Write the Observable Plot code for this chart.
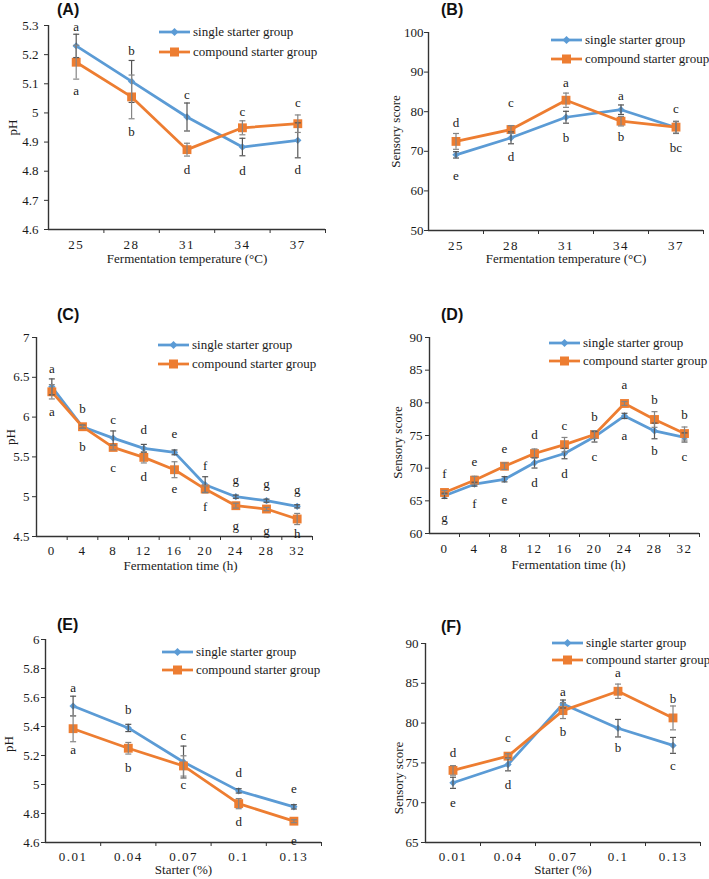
<!DOCTYPE html>
<html><head><meta charset="utf-8">
<script src="https://cdn.jsdelivr.net/npm/d3@7"></script>
<script src="https://cdn.jsdelivr.net/npm/@observablehq/plot@0.6"></script>
<style>
body{margin:0;background:#fff;}
#root{position:relative;width:709px;height:879px;overflow:hidden;font-family:"Liberation Serif","Times New Roman",Times,"DejaVu Serif",serif;color:#1a1a1a;}
.panel{position:absolute;}
.plabel{position:absolute;font-family:"Liberation Sans",Arial,sans-serif;font-weight:bold;font-size:16px;line-height:16px;color:#111;}
.lrow{position:absolute;white-space:nowrap;display:flex;align-items:center;height:16px;font-size:13px;}
.lrow span{margin-left:3px;}
[aria-label="x-axis tick label"] text{letter-spacing:1.5px;}
</style></head><body><div id="root"></div>
<script>
// ---------- categories ----------
const tempCats = ["25","28","31","34","37"];
const timeCats = ["0","4","8","12","16","20","24","28","32"];
const starterCats = ["0.01","0.04","0.07","0.1","0.13"];

// ---------- (A) pH vs temperature ----------
const A_single = [5.23,5.108,4.986,4.883,4.906];
const A_singleErr = [0.04,0.072,0.048,0.03,0.06];
const A_compound = [5.174,5.055,4.874,4.949,4.963];
const A_compoundErr = [0.058,0.075,0.022,0.024,0.03];
const A_upLetters = ["a","b","c","c","c"];
const A_upY = [5.297,5.214,5.062,5.003,5.034];
const A_lowLetters = ["a","b","d","d","d"];
const A_lowY = [5.077,4.934,4.806,4.803,4.806];
const A_yTicks = [4.6,4.7,4.8,4.9,5,5.1,5.2,5.3];

// ---------- (B) sensory vs temperature ----------
const B_single = [69.1,73.4,78.6,80.5,76.0];
const B_singleErr = [0.8,1.5,1.5,1.2,1.5];
const B_compound = [72.5,75.5,82.9,77.6,76.1];
const B_compoundErr = [2.0,1.0,1.8,1.2,1.5];
const B_upLetters = ["d","c","a","a","c"];
const B_upY = [77.3,82.35,87.4,83.9,80.7];
const B_lowLetters = ["e","d","b","b","bc"];
const B_lowY = [63.9,68.5,73.5,73.7,71.0];
const B_yTicks = [50,60,70,80,90,100];

// ---------- (C) pH vs time ----------
const C_single = [6.38,5.879,5.736,5.607,5.557,5.151,5.0,4.95,4.879];
const C_singleErr = [0.1,0.02,0.09,0.05,0.03,0.1,0.02,0.02,0.02];
const C_compound = [6.318,5.879,5.619,5.494,5.339,5.096,4.887,4.845,4.72];
const C_compoundErr = [0.09,0.02,0.03,0.07,0.1,0.04,0.03,0.02,0.07];
const C_upLetters = ["a","b","c","d","e","f","g","g","g"];
const C_upY = [6.611,6.1,5.962,5.837,5.787,5.389,5.209,5.159,5.084];
const C_lowLetters = ["a","b","c","d","e","f","g","g","h"];
const C_lowY = [6.071,5.628,5.368,5.251,5.096,4.874,4.636,4.573,4.531];
const C_yTicks = [4.5,5,5.5,6,6.5,7];

// ---------- (D) sensory vs time ----------
const D_single = [65.77,67.55,68.3,70.82,72.24,74.8,78.0,75.7,74.7];
const D_singleErr = [0.4,0.3,0.4,0.8,0.8,0.8,0.4,1.2,0.7];
const D_compound = [66.28,68.16,70.3,72.24,73.6,75.15,79.9,77.45,75.3];
const D_compoundErr = [0.3,0.6,0.5,0.7,1.1,0.6,0.3,1.2,1.0];
const D_upLetters = ["f","e","e","d","c","b","a","b","b"];
const D_upY = [69.08,70.97,72.9,75.05,76.43,77.86,82.7,80.4,78.2];
const D_lowLetters = ["g","f","e","d","d","c","a","b","c"];
const D_lowY = [62.4,64.5,65.2,67.8,69.18,71.73,74.9,72.65,71.73];
const D_yTicks = [60,65,70,75,80,85,90];

// ---------- (E) pH vs starter ----------
const E_single = [5.541,5.39,5.155,4.956,4.846];
const E_singleErr = [0.068,0.025,0.11,0.015,0.015];
const E_compound = [5.385,5.25,5.128,4.868,4.747];
const E_compoundErr = [0.09,0.04,0.07,0.035,0.01];
const E_upLetters = ["a","b","c","d","e"];
const E_upY = [5.667,5.518,5.334,5.082,4.967];
const E_lowLetters = ["a","b","c","d","e"];
const E_lowY = [5.24,5.114,4.995,4.742,4.611];
const E_yTicks = [4.6,4.8,5,5.2,5.4,5.6,5.8,6];

// ---------- (F) sensory vs starter ----------
const F_single = [72.5,74.8,82.4,79.36,77.2];
const F_singleErr = [0.7,0.8,0.5,1.1,1.0];
const F_compound = [74.06,75.85,81.57,84.0,80.65];
const F_compoundErr = [0.6,0.3,1.0,0.9,1.5];
const F_upLetters = ["d","c","a","a","b"];
const F_upY = [76.27,78.15,83.87,86.29,83.03];
const F_lowLetters = ["e","d","b","b","c"];
const F_lowY = [70.0,72.26,78.86,76.9,74.68];
const F_yTicks = [65,70,75,80,85,90];

const seriesNames = ["single starter group","compound starter group"];

// ---------- styles ----------
const blue = "#5b9bd5", orange = "#ed7d31";
const errSingle = "#555555", errCompound = "#858585";
const axisColor = "#333333";
const capSym = {draw(ctx){ ctx.moveTo(-3,0); ctx.lineTo(3,0); }};
const serif = '"Liberation Serif","Times New Roman",Times,"DejaVu Serif",serif';

const root = document.getElementById("root");

function panel(cfg) {
  const n = cfg.cats.length;
  const idx = d3.range(n);
  const rows = (vals, errs) => idx.map(i => ({i, v: vals[i], lo: vals[i]-errs[i], hi: vals[i]+errs[i]}));
  const s = rows(cfg.single, cfg.singleErr);
  const c = rows(cfg.compound, cfg.compoundErr);
  const lab = idx.map(i => ({i, up: cfg.up[i], upY: cfg.upY[i], low: cfg.low[i], lowY: cfg.lowY[i]}));
  const errMarks = (data, color) => [
    Plot.ruleX(data, {x:"i", y1:"lo", y2:"hi", stroke: color, strokeWidth: 1.2}),
    Plot.dot(data, {x:"i", y:"lo", symbol: capSym, fill:"none", stroke: color, strokeWidth: 1.2}),
    Plot.dot(data, {x:"i", y:"hi", symbol: capSym, fill:"none", stroke: color, strokeWidth: 1.2})
  ];
  const svg = Plot.plot({
    width: cfg.w, height: cfg.h,
    marginLeft: cfg.m[0], marginRight: cfg.m[1], marginTop: cfg.m[2], marginBottom: cfg.m[3],
    style: {fontFamily: serif, fontSize: "13px", color: "#1a1a1a", background: "transparent", overflow: "visible"},
    x: {domain: [-0.5, n - 0.5], label: null},
    y: {domain: [cfg.yTicks[0], cfg.yTicks[cfg.yTicks.length-1]], label: null},
    marks: [
      Plot.axisY({ticks: cfg.yTicks, tickSize: 4, tickPadding: cfg.yPad, tickFormat: d => String(d), stroke: axisColor, label: null}),
      Plot.axisX({ticks: idx, tickSize: 0, tickPadding: cfg.xPad, tickFormat: i => cfg.cats[i], label: null}),
      Plot.axisX({ticks: idx.map(i => i + 0.5), tickSize: 4, tickFormat: () => "", stroke: axisColor, label: null}),
      Plot.ruleX([-0.5], {stroke: axisColor, strokeWidth: 1.4}),
      Plot.ruleY([cfg.yTicks[0]], {stroke: axisColor, strokeWidth: 1.4}),
      Plot.line(s, {x:"i", y:"v", stroke: blue, strokeWidth: 2.75}),
      Plot.line(c, {x:"i", y:"v", stroke: orange, strokeWidth: 2.75}),
      Plot.dot(s, {x:"i", y:"v", symbol:"diamond2", r: 3.3, fill: blue}),
      Plot.dot(c, {x:"i", y:"v", symbol:"square", r: 5, fill: orange}),
      ...errMarks(s, errSingle),
      ...errMarks(c, errCompound),
      Plot.text(lab, {x:"i", y:"upY", text:"up", fill:"#1a1a1a"}),
      Plot.text(lab, {x:"i", y:"lowY", text:"low", fill:"#1a1a1a"}),
      Plot.text([cfg.xTitle], {text: d => d, frameAnchor:"bottom", lineAnchor:"middle", textAnchor:"middle", dy: cfg.xTitleDy, dx: cfg.xTitleDx, fill:"#1a1a1a"}),
      Plot.text([cfg.yTitle], {text: d => d, frameAnchor:"left", lineAnchor:"middle", textAnchor:"middle", rotate: -90, dx: cfg.yTitleDx, dy: cfg.yTitleDy, fill:"#1a1a1a"})
    ]
  });
  const wrap = document.createElement("div");
  wrap.className = "panel";
  wrap.style.left = cfg.left + "px";
  wrap.style.top = cfg.top + "px";
  wrap.appendChild(svg);
  root.appendChild(wrap);

  // panel label
  const pl = document.createElement("div");
  pl.className = "plabel";
  pl.textContent = cfg.tag;
  pl.style.left = cfg.tagPos[0] + "px";
  pl.style.top = (cfg.tagPos[1] - 8) + "px";
  root.appendChild(pl);

  // legend
  const [lx, ly, gap] = cfg.legend;
  seriesNames.forEach((name, k) => {
    const row = document.createElement("div");
    row.className = "lrow";
    row.style.left = lx + "px";
    row.style.top = (ly + k * gap - 8) + "px";
    const col = k === 0 ? blue : orange;
    const marker = k === 0
      ? `<path d="M15.5,4L19.5,8L15.5,12L11.5,8Z" fill="${col}"/>`
      : `<rect x="11" y="3.5" width="9" height="9" fill="${col}"/>`;
    row.innerHTML = `<svg width="31" height="16"><line x1="0" y1="8" x2="31" y2="8" stroke="${col}" stroke-width="2.75"/>${marker}</svg><span>${name}</span>`;
    root.appendChild(row);
  });
}

panel({tag:"(A)", tagPos:[57,10], left:0, top:0, w:354, h:295, m:[48,29,25,66],
  cats: tempCats, single: A_single, singleErr: A_singleErr, compound: A_compound, compoundErr: A_compoundErr,
  up: A_upLetters, upY: A_upY, low: A_lowLetters, lowY: A_lowY, yTicks: A_yTicks,
  yPad: 6, xPad: 10, xTitle: "Fermentation temperature (°C)", xTitleDy: 29.5, xTitleDx: 0,
  yTitle: "pH", yTitleDx: -36, yTitleDy: 0, legend: [159, 32, 20]});

panel({tag:"(B)", tagPos:[441,10], left:355, top:0, w:354, h:295, m:[73,6,32,65],
  cats: tempCats, single: B_single, singleErr: B_singleErr, compound: B_compound, compoundErr: B_compoundErr,
  up: B_upLetters, upY: B_upY, low: B_lowLetters, lowY: B_lowY, yTicks: B_yTicks,
  yPad: 1, xPad: 10, xTitle: "Fermentation temperature (°C)", xTitleDy: 28.5, xTitleDx: 0,
  yTitle: "Sensory score", yTitleDx: -33, yTitleDy: 0, legend: [551, 40, 19]});

panel({tag:"(C)", tagPos:[57,315], left:0, top:300, w:354, h:295, m:[36,42,37,59],
  cats: timeCats, single: C_single, singleErr: C_singleErr, compound: C_compound, compoundErr: C_compoundErr,
  up: C_upLetters, upY: C_upY, low: C_lowLetters, lowY: C_lowY, yTicks: C_yTicks,
  yPad: 3, xPad: 9, xTitle: "Fermentation time (h)", xTitleDy: 29.5, xTitleDx: 6,
  yTitle: "pH", yTitleDx: -26, yTitleDy: 0, legend: [158, 345, 19]});

panel({tag:"(D)", tagPos:[441,315], left:355, top:300, w:354, h:295, m:[74,10,37,62],
  cats: timeCats, single: D_single, singleErr: D_singleErr, compound: D_compound, compoundErr: D_compoundErr,
  up: D_upLetters, upY: D_upY, low: D_lowLetters, lowY: D_lowY, yTicks: D_yTicks,
  yPad: 3, xPad: 10, xTitle: "Fermentation time (h)", xTitleDy: 31, xTitleDx: 4,
  yTitle: "Sensory score", yTitleDx: -32, yTitleDy: 7, legend: [549, 343, 18]});

panel({tag:"(E)", tagPos:[57,625], left:0, top:590, w:354, h:289, m:[45,33,49,37],
  cats: starterCats, single: E_single, singleErr: E_singleErr, compound: E_compound, compoundErr: E_compoundErr,
  up: E_upLetters, upY: E_upY, low: E_lowLetters, lowY: E_lowY, yTicks: E_yTicks,
  yPad: 2, xPad: 9, xTitle: "Starter (%)", xTitleDy: 27.5, xTitleDx: 0,
  yTitle: "pH", yTitleDx: -37, yTitleDy: 3, legend: [162, 652, 18]});

panel({tag:"(F)", tagPos:[441,627], left:355, top:590, w:354, h:289, m:[70,9,53,37],
  cats: starterCats, single: F_single, singleErr: F_singleErr, compound: F_compound, compoundErr: F_compoundErr,
  up: F_upLetters, upY: F_upY, low: F_lowLetters, lowY: F_lowY, yTicks: F_yTicks,
  yPad: 3, xPad: 9, xTitle: "Starter (%)", xTitleDy: 27.5, xTitleDx: 0,
  yTitle: "Sensory score", yTitleDx: -27, yTitleDy: 35, legend: [552, 643, 16.5]});
</script>
</body></html>
